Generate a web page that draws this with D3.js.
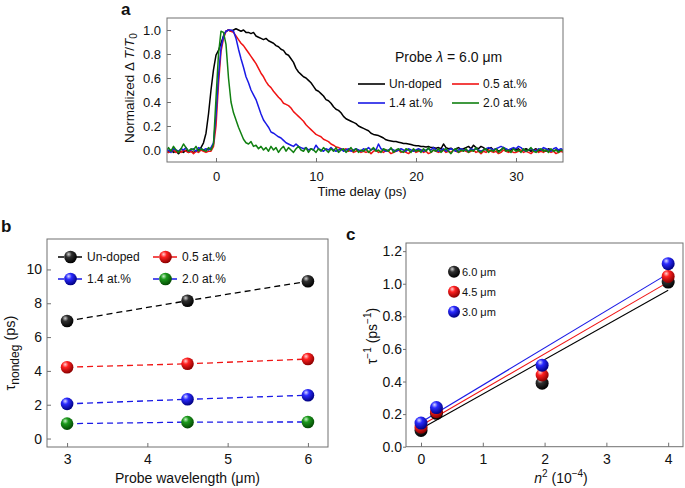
<!DOCTYPE html>
<html>
<head>
<meta charset="utf-8">
<script src="https://cdn.jsdelivr.net/npm/d3@7"></script>
<style>
  html, body { margin: 0; padding: 0; background: #fff; }
  svg { display: block; }
  text { font-family: 'Liberation Sans', Arial, Helvetica, sans-serif; fill: #111; }
</style>
</head>
<body>
<svg id="chart" width="685" height="488"></svg>
<script>
// ---------------- DATA ----------------
// Panel a: normalized transients, sampled every 0.25 ps starting at -5 ps
const timeStart = -5;
const timeStep = 0.25;
const seriesNamesA = ["Un-doped", "0.5 at.%", "1.4 at.%", "2.0 at.%"];
const undopedTrace = [
  -0.01,-0.02,0.00,-0.02,-0.01,-0.03,-0.01,-0.02,0.00,-0.02,-0.01,-0.02,-0.01,0.00,0.02,0.06,0.14,0.30,0.50,0.67,
  0.79,0.83,0.89,0.95,0.99,1.00,0.99,1.00,1.01,1.00,0.99,1.00,0.98,0.98,0.97,0.98,0.95,0.94,0.93,0.92,
  0.93,0.91,0.90,0.89,0.87,0.86,0.84,0.83,0.80,0.79,0.76,0.73,0.68,0.65,0.63,0.61,0.60,0.58,0.56,0.53,
  0.50,0.49,0.47,0.45,0.42,0.41,0.39,0.36,0.34,0.33,0.31,0.28,0.26,0.25,0.24,0.23,0.22,0.20,0.19,0.18,
  0.17,0.16,0.14,0.13,0.125,0.12,0.11,0.10,0.085,0.08,0.075,0.07,0.07,0.065,0.06,0.055,0.055,0.05,0.045,0.04,
  0.036,0.035,0.03,0.03,0.025,0.03,0.02,0.02,0.015,0.02,0.01,0.05,0.02,0.01,0.015,0.00,0.01,0.02,0.005,0.01,
  0.02,0.03,0.01,0.04,0.02,0.01,0.03,0.02,0.00,0.01,0.02,0.00,0.01,-0.01,0.00,0.02,0.00,-0.01,0.00,0.01,
  0.00,0.01,-0.01,0.00,0.01,0.00,-0.01,0.00,0.01,-0.01,0.00,0.00,-0.01,0.01,0.00,-0.01,0.00,0.00,-0.01,0.00
];
const dope05Trace = [
  -0.01,-0.02,-0.01,0.00,-0.02,-0.01,-0.02,0.00,-0.01,-0.02,-0.01,-0.03,-0.01,-0.02,0.00,-0.01,-0.02,-0.01,-0.01,0.03,
  0.20,0.55,0.82,0.93,0.99,1.00,0.99,0.98,0.95,0.92,0.89,0.87,0.84,0.81,0.78,0.75,0.72,0.68,0.64,0.61,
  0.57,0.54,0.52,0.49,0.465,0.44,0.42,0.39,0.38,0.37,0.35,0.32,0.30,0.28,0.26,0.24,0.21,0.19,0.17,0.15,
  0.13,0.12,0.11,0.09,0.08,0.07,0.05,0.04,0.025,0.02,0.01,0.00,0.01,-0.01,0.00,-0.02,-0.01,0.00,-0.02,-0.01,
  -0.02,-0.01,-0.03,-0.01,0.00,-0.02,-0.01,-0.02,0.00,-0.01,-0.03,-0.02,-0.01,0.00,-0.02,-0.01,-0.02,-0.03,-0.01,0.00,
  -0.02,-0.01,0.00,-0.02,-0.01,-0.03,-0.02,0.00,-0.01,-0.02,-0.01,0.00,-0.02,-0.01,-0.02,0.00,-0.01,-0.02,-0.01,0.00,
  -0.01,-0.02,-0.01,0.00,-0.02,-0.01,-0.03,-0.01,-0.02,0.00,-0.01,-0.02,-0.01,-0.03,-0.02,0.00,-0.01,-0.02,-0.01,-0.02,
  -0.02,-0.01,0.00,-0.02,-0.01,-0.02,-0.03,-0.01,0.00,-0.02,-0.01,-0.02,0.00,-0.01,-0.02,-0.01,-0.03,-0.02,-0.01,-0.02
];
const dope14Trace = [
  -0.01,0.00,-0.02,0.01,0.00,-0.01,0.01,0.00,0.02,-0.01,0.00,0.01,-0.01,0.02,0.01,0.00,0.01,0.00,0.02,0.06,
  0.29,0.62,0.85,0.95,0.99,1.00,1.00,0.99,0.93,0.84,0.76,0.69,0.61,0.56,0.50,0.46,0.42,0.36,0.30,0.25,
  0.22,0.19,0.15,0.14,0.125,0.11,0.10,0.08,0.06,0.05,0.04,0.03,0.05,0.03,0.02,0.01,0.02,0.00,0.01,0.00,
  0.04,0.01,0.00,-0.01,0.01,0.00,0.02,0.00,-0.01,0.00,0.01,-0.01,0.00,0.01,-0.01,0.00,0.01,0.00,-0.01,0.01,
  0.00,0.02,0.00,0.01,0.00,0.05,0.01,0.00,-0.01,0.00,0.01,0.00,-0.01,0.00,0.01,0.00,-0.01,0.01,0.00,-0.01,
  0.00,0.01,0.00,-0.01,0.00,0.01,0.00,0.02,0.00,-0.01,0.00,0.01,-0.01,0.00,0.01,0.00,-0.01,0.00,0.01,0.00,
  0.00,-0.01,0.01,0.00,0.01,0.00,-0.01,0.00,0.01,0.02,0.01,0.00,0.01,0.02,0.03,0.02,0.01,0.00,0.01,0.02,
  0.01,0.03,0.02,0.00,-0.01,0.00,0.01,0.00,-0.01,0.01,0.00,0.02,0.01,0.00,-0.01,0.01,0.02,0.00,0.01,0.00
];
const dope20Trace = [
  -0.01,0.02,-0.01,0.03,0.00,-0.02,0.01,0.05,0.02,-0.01,0.01,0.00,0.03,-0.01,0.01,0.00,-0.01,0.02,0.00,0.05,
  0.43,0.80,0.99,0.98,0.88,0.60,0.40,0.31,0.25,0.19,0.14,0.09,0.06,0.05,0.07,0.03,0.04,0.01,0.03,0.00,
  0.02,-0.01,0.03,0.00,0.02,-0.02,0.01,0.03,-0.01,0.02,0.00,-0.02,0.01,0.03,0.00,-0.01,0.02,-0.02,0.01,0.00,
  -0.02,0.01,-0.01,0.02,0.00,-0.02,0.01,-0.01,0.02,-0.02,0.00,0.01,-0.02,0.00,0.02,-0.01,0.01,-0.02,0.00,-0.01,
  0.01,-0.02,0.00,0.02,-0.01,0.00,-0.02,0.01,0.00,-0.01,0.02,-0.02,0.00,0.01,-0.01,-0.02,0.01,0.00,-0.02,0.01,
  -0.01,0.00,-0.02,0.01,-0.01,0.02,-0.02,0.00,-0.01,0.01,-0.02,0.00,0.01,-0.01,-0.03,0.00,0.01,-0.02,0.00,-0.01,
  0.01,-0.02,0.00,-0.01,0.02,-0.01,-0.02,0.00,0.01,-0.02,0.00,-0.01,0.01,-0.02,0.00,0.02,-0.01,0.00,-0.02,0.01,
  -0.01,0.00,-0.02,0.01,-0.01,0.00,0.02,-0.01,-0.02,0.00,0.01,-0.01,0.00,-0.02,0.01,-0.01,0.00,-0.02,0.00,-0.01
];
const xTicksA = [0, 10, 20, 30];
const yTicksA = [0.0, 0.2, 0.4, 0.6, 0.8, 1.0];

// Panel b: tau_nondeg vs probe wavelength
const wavelengthsB = [3, 4.5, 6];
const seriesNamesB = ["Un-doped", "0.5 at.%", "1.4 at.%", "2.0 at.%"];
const tauUndoped = [6.95, 8.15, 9.3];
const tau05 = [4.22, 4.42, 4.7];
const tau14 = [2.05, 2.32, 2.56];
const tau20 = [0.88, 0.97, 0.98];
const xTicksB = [3, 4, 5, 6];
const yTicksB = [0, 2, 4, 6, 8, 10];

// Panel c: inverse lifetime vs n^2
const n2Values = [0, 0.25, 1.96, 4];
const seriesNamesC = ["6.0 μm", "4.5 μm", "3.0 μm"];
const invTau60 = [0.10, 0.205, 0.39, 1.01];
const invTau45 = [0.12, 0.215, 0.44, 1.045];
const invTau30 = [0.145, 0.24, 0.50, 1.123];
const fitStartX = 0, fitEndX = 4;
const fitAtStart = [0.11, 0.13, 0.15];
const fitAtEnd = [0.96, 1.01, 1.062];
const xTicksC = [0, 1, 2, 3, 4];
const yTicksC = [0.0, 0.2, 0.4, 0.6, 0.8, 1.0, 1.2];

// ---------------- STYLE ----------------
const colBlack = "#000000", colRed = "#f01414", colBlue = "#1a1ae6", colGreen = "#118011";
const frameColor = "#707070";

const svg = d3.select("#chart");
const defs = svg.append("defs");

function sphereGrad(id, light, mid, dark) {
  const g = defs.append("radialGradient").attr("id", id)
    .attr("cx", "38%").attr("cy", "32%").attr("r", "68%").attr("fx", "35%").attr("fy", "28%");
  g.append("stop").attr("offset", "0%").attr("stop-color", light);
  g.append("stop").attr("offset", "35%").attr("stop-color", mid);
  g.append("stop").attr("offset", "100%").attr("stop-color", dark);
}
sphereGrad("gBlack", "#d0d0d0", "#303030", "#000000");
sphereGrad("gRed", "#ffd0d0", "#ff2020", "#8a0000");
sphereGrad("gBlue", "#d8d8ff", "#2a2aff", "#000080");
sphereGrad("gGreen", "#c8f0c8", "#1c9a1c", "#044a04");

function styleAxis(g, fontSize) {
  g.select(".domain").remove();
  g.selectAll(".tick line").attr("stroke", frameColor);
  g.selectAll(".tick text").attr("font-size", fontSize).attr("fill", "#111")
    .attr("font-family", "'Liberation Sans', Arial, sans-serif");
}

// ================= PANEL A =================
{
  const L = 167, R = 563, T = 18, B = 162;
  const x = d3.scaleLinear().domain([-4.9, 34.7]).range([L, R]);
  const y = d3.scaleLinear().domain([-0.1, 1.1]).range([B, T]);
  const times = undopedTrace.map((_, i) => timeStart + i * timeStep);

  defs.append("clipPath").attr("id", "clipA").append("rect")
    .attr("x", L).attr("y", T).attr("width", R - L).attr("height", B - T);

  const gx = svg.append("g").attr("transform", `translate(0,${B})`)
    .call(d3.axisBottom(x).tickValues(xTicksA).tickSize(-4).tickPadding(10).tickFormat(d3.format("d")));
  styleAxis(gx, 13);
  const gy = svg.append("g").attr("transform", `translate(${L},0)`)
    .call(d3.axisLeft(y).tickValues(yTicksA).tickSize(-4).tickPadding(6).tickFormat(d3.format(".1f")));
  styleAxis(gy, 13);

  const traces = [
    { v: undopedTrace, c: colBlack },
    { v: dope05Trace, c: colRed },
    { v: dope14Trace, c: colBlue },
    { v: dope20Trace, c: colGreen }
  ];
  const line = d3.line().x((d, i) => x(times[i])).y(d => y(d));
  const plot = svg.append("g").attr("clip-path", "url(#clipA)");
  traces.forEach(s => {
    plot.append("path").datum(s.v).attr("d", line)
      .attr("fill", "none").attr("stroke", s.c).attr("stroke-width", 1.5).attr("stroke-linejoin", "round");
  });

  svg.append("rect").attr("x", L).attr("y", T).attr("width", R - L).attr("height", B - T)
    .attr("fill", "none").attr("stroke", frameColor).attr("stroke-width", 1);

  // legend
  const pt = svg.append("text").attr("x", 395).attr("y", 62).attr("font-size", 14);
  pt.append("tspan").text("Probe ");
  pt.append("tspan").attr("font-style", "italic").text("λ");
  pt.append("tspan").text(" = 6.0 μm");
  const legPos = [[358, 84], [452, 84], [358, 103], [452, 103]];
  traces.forEach((s, i) => {
    const [lx, ly] = legPos[i];
    svg.append("line").attr("x1", lx).attr("x2", lx + 27).attr("y1", ly).attr("y2", ly)
      .attr("stroke", s.c).attr("stroke-width", 1.6);
    svg.append("text").attr("x", lx + 31).attr("y", ly).attr("dy", "0.35em")
      .attr("font-size", 12).text(seriesNamesA[i]);
  });

  // titles
  svg.append("text").attr("x", (L + R) / 2 - 3).attr("y", 196).attr("text-anchor", "middle")
    .attr("font-size", 13).text("Time delay (ps)");
  const yt = svg.append("text").attr("transform", `translate(134,${(T + B) / 2 - 2}) rotate(-90)`)
    .attr("text-anchor", "middle").attr("font-size", 13.5);
  yt.append("tspan").text("Normalized Δ ");
  yt.append("tspan").attr("font-style", "italic").text("T");
  yt.append("tspan").text("/");
  yt.append("tspan").attr("font-style", "italic").text("T");
  yt.append("tspan").attr("font-size", 10).attr("dy", 3).text("0");
  svg.append("text").attr("x", 121).attr("y", 15).attr("font-size", 17).attr("font-weight", "bold").text("a");
}

// ================= PANEL B =================
{
  const L = 47, R = 328, T = 239, B = 447;
  const x = d3.scaleLinear().domain([2.75, 6.25]).range([L, R]);
  const y = d3.scaleLinear().domain([-0.5, 11.8]).range([B, T]);

  const gx = svg.append("g").attr("transform", `translate(0,${B})`)
    .call(d3.axisBottom(x).tickValues(xTicksB).tickSize(-4).tickPadding(7).tickFormat(d3.format("d")));
  styleAxis(gx, 14);
  const gy = svg.append("g").attr("transform", `translate(${L},0)`)
    .call(d3.axisLeft(y).tickValues(yTicksB).tickSize(-4).tickPadding(5).tickFormat(d3.format("d")));
  styleAxis(gy, 14);

  svg.append("rect").attr("x", L).attr("y", T).attr("width", R - L).attr("height", B - T)
    .attr("fill", "none").attr("stroke", frameColor).attr("stroke-width", 1);

  const series = [
    { v: tauUndoped, c: colBlack, g: "gBlack" },
    { v: tau05, c: colRed, g: "gRed" },
    { v: tau14, c: colBlue, g: "gBlue" },
    { v: tau20, c: colBlue, g: "gGreen" }
  ];
  const line = d3.line().x((d, i) => x(wavelengthsB[i])).y(d => y(d));
  series.forEach(s => {
    svg.append("path").datum(s.v).attr("d", line).attr("fill", "none")
      .attr("stroke", s.c).attr("stroke-width", 1.3).attr("stroke-dasharray", "6,4");
  });
  series.forEach(s => {
    svg.append("g").selectAll("circle").data(s.v).join("circle")
      .attr("cx", (d, i) => x(wavelengthsB[i])).attr("cy", d => y(d)).attr("r", 6.3)
      .attr("fill", `url(#${s.g})`);
  });

  // legend
  const legPos = [[58, 257], [153, 257], [58, 279], [153, 279]];
  series.forEach((s, i) => {
    const [lx, ly] = legPos[i];
    svg.append("line").attr("x1", lx).attr("x2", lx + 25).attr("y1", ly).attr("y2", ly)
      .attr("stroke", s.c).attr("stroke-width", 1.3).attr("stroke-dasharray", "6,3");
    svg.append("circle").attr("cx", lx + 12.5).attr("cy", ly).attr("r", 6.3).attr("fill", `url(#${s.g})`);
    svg.append("text").attr("x", lx + 29).attr("y", ly).attr("dy", "0.35em")
      .attr("font-size", 12).text(seriesNamesB[i]);
  });

  svg.append("text").attr("x", (L + R) / 2).attr("y", 483).attr("text-anchor", "middle")
    .attr("font-size", 14).text("Probe wavelength (μm)");
  const yt = svg.append("text").attr("transform", `translate(15,${(T + B) / 2 + 10}) rotate(-90)`)
    .attr("text-anchor", "middle").attr("font-size", 14.5);
  yt.append("tspan").text("τ");
  yt.append("tspan").attr("font-size", 12).attr("dy", 4).text("nondeg");
  yt.append("tspan").attr("dy", -4).text(" (ps)");
  svg.append("text").attr("x", 1).attr("y", 232).attr("font-size", 17).attr("font-weight", "bold").text("b");
}

// ================= PANEL C =================
{
  const L = 406, R = 683, T = 243, B = 446.7;
  const x = d3.scaleLinear().domain([-0.243, 4.24]).range([L, R]);
  const y = d3.scaleLinear().domain([0, 1.25]).range([B, T]);

  const gx = svg.append("g").attr("transform", `translate(0,${B})`)
    .call(d3.axisBottom(x).tickValues(xTicksC).tickSize(-4).tickPadding(7).tickFormat(d3.format("d")));
  styleAxis(gx, 14);
  const gy = svg.append("g").attr("transform", `translate(${L},0)`)
    .call(d3.axisLeft(y).tickValues(yTicksC).tickSize(3).tickPadding(1).tickFormat(d3.format(".1f")));
  styleAxis(gy, 14);

  svg.append("rect").attr("x", L).attr("y", T).attr("width", R - L).attr("height", B - T)
    .attr("fill", "none").attr("stroke", frameColor).attr("stroke-width", 1);

  const series = [
    { v: invTau60, c: colBlack, g: "gBlack" },
    { v: invTau45, c: colRed, g: "gRed" },
    { v: invTau30, c: colBlue, g: "gBlue" }
  ];
  series.forEach((s, k) => {
    svg.append("line")
      .attr("x1", x(fitStartX)).attr("y1", y(fitAtStart[k]))
      .attr("x2", x(fitEndX)).attr("y2", y(fitAtEnd[k]))
      .attr("stroke", s.c).attr("stroke-width", 1.1);
  });
  series.forEach(s => {
    svg.append("g").selectAll("circle").data(s.v).join("circle")
      .attr("cx", (d, i) => x(n2Values[i])).attr("cy", d => y(d)).attr("r", 6.5)
      .attr("fill", `url(#${s.g})`);
  });

  const legY = [271.7, 291.7, 311.7];
  series.forEach((s, i) => {
    svg.append("circle").attr("cx", 454).attr("cy", legY[i]).attr("r", 6).attr("fill", `url(#${s.g})`);
    svg.append("text").attr("x", 462).attr("y", legY[i]).attr("dy", "0.35em")
      .attr("font-size", 11).text(seriesNamesC[i]);
  });

  const xt = svg.append("text").attr("x", 561).attr("y", 483).attr("text-anchor", "middle").attr("font-size", 14);
  xt.append("tspan").attr("font-style", "italic").text("n");
  xt.append("tspan").attr("font-size", 10).attr("dy", -6).text("2");
  xt.append("tspan").attr("dy", 6).text(" (10");
  xt.append("tspan").attr("font-size", 10).attr("dy", -6).text("−4");
  xt.append("tspan").attr("dy", 6).text(")");

  const yt = svg.append("text").attr("transform", `translate(377,336) rotate(-90)`)
    .attr("text-anchor", "middle").attr("font-size", 14);
  yt.append("tspan").text("τ");
  yt.append("tspan").attr("font-size", 10).attr("dy", -6).text("−1");
  yt.append("tspan").attr("dy", 6).text(" (ps");
  yt.append("tspan").attr("font-size", 10).attr("dy", -6).text("−1");
  yt.append("tspan").attr("dy", 6).text(")");
  svg.append("text").attr("x", 346).attr("y", 240).attr("font-size", 17).attr("font-weight", "bold").text("c");
}
</script>
</body>
</html>
